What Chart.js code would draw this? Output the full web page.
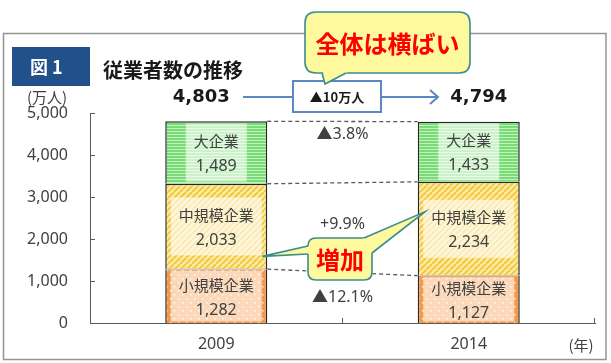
<!DOCTYPE html>
<html><head><meta charset="utf-8">
<script src="https://cdn.jsdelivr.net/npm/chart.js@4/dist/chart.umd.min.js"></script>
<style>html,body{margin:0;padding:0;background:#fff;}#wrap{position:relative;width:611px;height:363px;}</style>
</head><body><div id="wrap"><canvas id="c" width="611" height="363"></canvas></div>
<script>
// ---- data ----
const categories = ['2009', '2014'];
const segmentNames = ['小規模企業', '中規模企業', '大企業'];
const smallEnt = [1282, 1127];
const midEnt = [2033, 2234];
const largeEnt = [1489, 1433];
const totals = [4803, 4794];
const yTicks = [0, 1000, 2000, 3000, 4000, 5000];
const totalChangeLabel = '▲10万人';
const chartTitle = '従業者数の推移';
const figLabel = '図 1';
const yUnit = '(万人)';
const xUnit = '(年)';
const calloutTop = '全体は横ばい';
const calloutMid = '増加';

const CJK = '"Noto Sans CJK JP", sans-serif';
const NUM = '"Noto Sans", "Noto Sans CJK JP", sans-serif';
const TXT = '#404040';

function makePattern(draw, w, h) {
  const c = document.createElement('canvas'); c.width = w; c.height = h;
  const x = c.getContext('2d'); draw(x, w, h);
  return x.createPattern(c, 'repeat');
}
const ctx0 = document.getElementById('c').getContext('2d');
const greenPat = makePattern((x, w, h) => {
  x.fillStyle = '#c4f2bf'; x.fillRect(0, 0, w, h);
  x.fillStyle = '#78dc76'; x.fillRect(0, 0, w, 2);
}, 4, 3);
const yellowPat = makePattern((x, w, h) => {
  x.fillStyle = '#fdeba6'; x.fillRect(0, 0, w, h);
  x.strokeStyle = '#f2c93e'; x.lineWidth = 2;
  for (let k = -1; k <= 1; k++) { x.beginPath(); x.moveTo(k * w, h); x.lineTo(k * w + w, 0); x.stroke(); }
}, 6, 6);
const orangePat = makePattern((x, w, h) => {
  x.fillStyle = '#f4994a'; x.fillRect(0, 0, w, h);
  x.fillStyle = 'rgba(255,255,255,0.85)';
  x.fillRect(2, 2, 1.5, 1.5); x.fillRect(6, 6, 1.5, 1.5);
}, 8, 8);

const fmt = v => v.toLocaleString('en-US');
const pct = (a, b) => { const p = (b - a) / a * 100; return (p < 0 ? '▲' : '+') + Math.abs(p).toFixed(1) + '%'; };

function roundRect(ctx, x, y, w, h, r) {
  ctx.beginPath();
  ctx.moveTo(x + r, y); ctx.lineTo(x + w - r, y); ctx.quadraticCurveTo(x + w, y, x + w, y + r);
  ctx.lineTo(x + w, y + h - r); ctx.quadraticCurveTo(x + w, y + h, x + w - r, y + h);
  ctx.lineTo(x + r, y + h); ctx.quadraticCurveTo(x, y + h, x, y + h - r);
  ctx.lineTo(x, y + r); ctx.quadraticCurveTo(x, y, x + r, y); ctx.closePath();
}
function callout(ctx, box, tails, text, fontSize) {
  const [bx, by, bw, bh, r] = box;
  const cx = bx + bw / 2, cy = by + bh / 2;
  ctx.save();
  ctx.fillStyle = '#fdf99c'; ctx.strokeStyle = '#3a8d8f'; ctx.lineWidth = 1.6;
  roundRect(ctx, bx, by, bw, bh, r); ctx.fill(); ctx.stroke();
  tails.forEach(([e1, tip, e2]) => {
    ctx.beginPath(); ctx.moveTo(e1[0], e1[1]); ctx.lineTo(tip[0], tip[1]); ctx.lineTo(e2[0], e2[1]); ctx.lineTo(cx, cy); ctx.closePath();
    ctx.fill();
    ctx.beginPath(); ctx.moveTo(e1[0], e1[1]); ctx.lineTo(tip[0], tip[1]); ctx.lineTo(e2[0], e2[1]); ctx.stroke();
  });
  ctx.fillStyle = '#ff0000'; ctx.font = 'bold ' + fontSize + 'px ' + CJK;
  ctx.textAlign = 'center'; ctx.textBaseline = 'middle';
  ctx.fillText(text, cx, cy + 1);
  ctx.restore();
}

const overlay = {
  id: 'overlay',
  afterDatasetsDraw(chart) {
    const ctx = chart.ctx, ys = chart.scales.y, xs = chart.scales.x;
    const metas = [0, 1, 2].map(i => chart.getDatasetMeta(i));
    const series = [smallEnt, midEnt, largeEnt];
    ctx.save();
    // boundary between small and medium segments (light line)
    metas[0].data.forEach(bar => {
      const p = bar.getProps(['x', 'y', 'width'], true);
      ctx.strokeStyle = '#c8c8c8'; ctx.lineWidth = 1.2;
      ctx.beginPath(); ctx.moveTo(p.x - p.width / 2 + 1.5, p.y); ctx.lineTo(p.x + p.width / 2 - 1.5, p.y); ctx.stroke();
    });
    // label boxes + labels
    metas.forEach((m, i) => {
      m.data.forEach((bar, j) => {
        const p = bar.getProps(['x', 'y', 'base', 'width'], true);
        const top = Math.min(p.y, p.base), bot = Math.max(p.y, p.base);
        const segH = bot - top, cy = (top + bot) / 2;
        ctx.font = '15px ' + CJK;
        const w1 = ctx.measureText(segmentNames[i]).width;
        ctx.font = '16px ' + NUM;
        const w2 = ctx.measureText(fmt(series[i][j])).width;
        const bw = Math.max(w1, w2) + 16, bh = Math.min(58, segH - 3);
        ctx.fillStyle = 'rgba(255,255,255,0.62)';
        ctx.fillRect(p.x - bw / 2, cy - bh / 2, bw, bh);
        ctx.fillStyle = TXT; ctx.textAlign = 'center'; ctx.textBaseline = 'middle';
        ctx.font = '15px ' + CJK; ctx.fillText(segmentNames[i], p.x, cy - 11);
        ctx.font = '16px ' + NUM; ctx.fillText(fmt(series[i][j]), p.x, cy + 14);
      });
    });
    // dashed connectors
    const b0 = metas[0].data[0].getProps(['x', 'width'], true);
    const b1 = metas[0].data[1].getProps(['x', 'width'], true);
    const xL = b0.x + b0.width / 2, xR = b1.x - b1.width / 2;
    const cum = [[smallEnt[0], smallEnt[1]], [smallEnt[0] + midEnt[0], smallEnt[1] + midEnt[1]], [totals[0], totals[1]]];
    ctx.strokeStyle = '#595959'; ctx.lineWidth = 1.3; ctx.setLineDash([4, 3]);
    cum.forEach(([a, b]) => {
      ctx.beginPath(); ctx.moveTo(xL, ys.getPixelForValue(a)); ctx.lineTo(xR, ys.getPixelForValue(b)); ctx.stroke();
    });
    ctx.setLineDash([]);
    // percentage labels
    const xm = (b0.x + b1.x) / 2;
    ctx.fillStyle = TXT; ctx.font = '16px ' + NUM; ctx.textAlign = 'center'; ctx.textBaseline = 'middle';
    ctx.fillText(pct(largeEnt[0], largeEnt[1]), xm, ys.getPixelForValue((totals[0] + totals[1]) / 2) + 13);
    ctx.fillText(pct(midEnt[0], midEnt[1]), xm, ys.getPixelForValue(((cum[1][0] + cum[1][1]) / 2 + (cum[0][0] + cum[0][1]) / 2) / 2) - 3);
    ctx.fillText(pct(smallEnt[0], smallEnt[1]), xm, ys.getPixelForValue((cum[0][0] + cum[0][1]) / 4));
    // inward ticks
    ctx.strokeStyle = '#595959'; ctx.lineWidth = 1;
    yTicks.forEach(v => {
      const yy = Math.round(ys.getPixelForValue(v)) + 0.5;
      ctx.beginPath(); ctx.moveTo(xs.left, yy); ctx.lineTo(xs.left + 5, yy); ctx.stroke();
    });
    const catW = (xs.right - xs.left) / categories.length;
    for (let k = 1; k <= categories.length; k++) {
      const xx = Math.round(xs.left + catW * k) - 0.5;
      ctx.beginPath(); ctx.moveTo(xx, ys.bottom); ctx.lineTo(xx, ys.bottom - 5); ctx.stroke();
    }
    ctx.restore();
  },
  afterDraw(chart) {
    const ctx = chart.ctx, ys = chart.scales.y;
    ctx.save();
    // frame
    ctx.strokeStyle = '#959595'; ctx.lineWidth = 1.5;
    ctx.strokeRect(3.5, 33.5, 602.5, 326);
    // figure label
    ctx.fillStyle = '#22508a'; ctx.fillRect(12, 47, 78, 39);
    ctx.fillStyle = '#fff'; ctx.font = 'bold 18px ' + CJK; ctx.textAlign = 'left'; ctx.textBaseline = 'middle';
    ctx.fillText(figLabel, 30, 67);
    // title
    ctx.fillStyle = '#1a1a1a'; ctx.font = 'bold 20px ' + CJK;
    ctx.fillText(chartTitle, 103, 70);
    // units
    ctx.fillStyle = TXT; ctx.font = '15px ' + CJK; ctx.textAlign = 'center';
    ctx.fillText(yUnit, 47, 97);
    ctx.fillText(xUnit, 581, 345);
    // totals
    const m = chart.getDatasetMeta(0);
    const p0 = m.data[0].getProps(['x'], true), p1 = m.data[1].getProps(['x'], true);
    ctx.fillStyle = '#1a1a1a'; ctx.font = 'bold 18px "DejaVu Sans", sans-serif';
    ctx.fillText(fmt(totals[0]), p0.x - 15, 97);
    ctx.fillText(fmt(totals[1]), p1.x + 10, 97);
    // arrow + change box
    ctx.strokeStyle = '#5b87c5'; ctx.lineWidth = 2;
    ctx.beginPath(); ctx.moveTo(243, 97); ctx.lineTo(293, 97); ctx.moveTo(381, 97); ctx.lineTo(438, 97); ctx.stroke();
    ctx.beginPath(); ctx.moveTo(430, 90); ctx.lineTo(438, 97); ctx.lineTo(430, 104); ctx.stroke();
    ctx.fillStyle = '#fff'; ctx.fillRect(293, 81, 88, 31); ctx.strokeRect(293, 81, 88, 31);
    ctx.fillStyle = '#1a1a1a'; ctx.font = 'bold 13px ' + CJK;
    ctx.fillText(totalChangeLabel, 337, 97);
    // top callout
    callout(ctx, [305, 12, 165, 61, 11], [[[322, 73], [325, 84], [346, 73]]], calloutTop, 24);
    // middle callout pointing at the medium-size segments
    const b0 = m.data[0].getProps(['x', 'width'], true), b1 = m.data[1].getProps(['x', 'width'], true);
    const tipL = [b0.x + b0.width / 2 - 5, ys.getPixelForValue(smallEnt[0] + midEnt[0] * 0.15)];
    const tipR = [b1.x - b1.width / 2 + 7, ys.getPixelForValue(smallEnt[1] + midEnt[1] * 0.68)];
    callout(ctx, [308, 238, 64, 42, 8], [[[308, 246], tipL, [308, 254]], [[364, 238], tipR, [372, 253]]], calloutMid, 24);
    ctx.restore();
  }
};

new Chart(ctx0, {
  type: 'bar',
  data: {
    labels: categories,
    datasets: [
      { label: segmentNames[0], data: smallEnt, backgroundColor: orangePat, borderColor: '#262626',
        borderWidth: { left: 1.5, right: 1.5, top: 0, bottom: 0 }, borderSkipped: false },
      { label: segmentNames[1], data: midEnt, backgroundColor: yellowPat, borderColor: '#262626',
        borderWidth: { left: 1.5, right: 1.5, top: 1.5, bottom: 0 }, borderSkipped: false },
      { label: segmentNames[2], data: largeEnt, backgroundColor: greenPat, borderColor: '#262626',
        borderWidth: { left: 1.5, right: 1.5, top: 1.5, bottom: 0 }, borderSkipped: false }
    ]
  },
  options: {
    responsive: false, animation: false, devicePixelRatio: 1,
    layout: { padding: { left: 0, right: 16, top: 113, bottom: 0 } },
    datasets: { bar: { categoryPercentage: 1, barPercentage: 0.404 } },
    plugins: { legend: { display: false }, tooltip: { enabled: false } },
    scales: {
      x: {
        stacked: true,
        grid: { display: false, drawTicks: false },
        border: { display: true, color: '#595959', width: 1 },
        ticks: { color: TXT, font: { family: NUM, size: 16 }, padding: 12 },
        afterFit: s => { s.height = 40; }
      },
      y: {
        stacked: true, min: 0, max: 5000,
        afterBuildTicks: s => { s.ticks = yTicks.map(v => ({ value: v })); },
        grid: { display: false, drawTicks: false },
        border: { display: true, color: '#595959', width: 1 },
        ticks: { color: TXT, font: { family: NUM, size: 16 }, padding: 22, callback: v => fmt(v) },
        afterFit: s => { s.width = 90; }
      }
    }
  },
  plugins: [overlay]
});
</script></body></html>
